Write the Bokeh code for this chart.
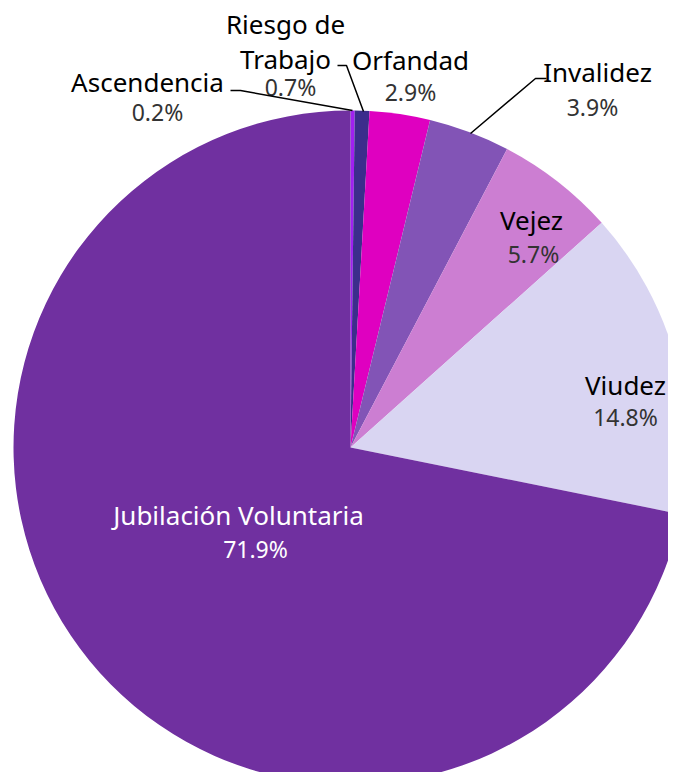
import numpy as np
from bokeh.plotting import figure
from bokeh.models import Range1d, ColumnDataSource
from bokeh.core.properties import value
from bokeh.embed import file_html
from bokeh.resources import INLINE

# ---- data ----
categories = ["Ascendencia", "Riesgo de Trabajo", "Orfandad", "Invalidez", "Vejez", "Viudez", "Jubilación Voluntaria"]
shares = [0.2, 0.7, 2.9, 3.9, 5.7, 14.8, 71.9]
pct_labels = ["0.2%", "0.7%", "2.9%", "3.9%", "5.7%", "14.8%", "71.9%"]
colors = ["#A020F0", "#3C2D8C", "#DF00C0", "#8254B6", "#CC7ED2", "#D9D5F2", "#7030A0"]

# ---- layout (picture pixel coordinates) ----
W, H = 668, 772
def px(x):
    return x
def py(y):
    return H - y

cx, cy, r = px(350), py(447), 337

vals = np.array(shares)
frac = vals / vals.sum()
cum = np.concatenate([[0], np.cumsum(frac)])
start = np.pi / 2 - cum[:-1] * 2 * np.pi
end = np.pi / 2 - cum[1:] * 2 * np.pi

p = figure(width=W, height=H, output_backend="svg", toolbar_location=None,
           x_range=Range1d(0, W), y_range=Range1d(0, H), min_border=0)
p.axis.visible = False
p.grid.visible = False
p.outline_line_color = None
p.background_fill_color = "white"

src = ColumnDataSource(dict(start=start, end=end, color=colors))
p.wedge(x=cx, y=cy, radius=r, start_angle="start", end_angle="end", direction="clock",
        fill_color="color", line_color=None, source=src)

# name label lines, percentage positions (picture coords)
name_lines = [["Ascendencia"], ["Riesgo de", "Trabajo"], ["Orfandad"], ["Invalidez"], ["Vejez"], ["Viudez"], ["Jubilación Voluntaria"]]
name_pos = [[(147, 81)], [(285, 23), (285, 58)], [(410, 59)], [(597, 71)], [(531, 219)], [(625, 384)], [(238, 514)]]
pct_pos = [(157, 111), (290, 86), (410, 91), (592, 106), (533, 253), (625, 416), (255, 548)]
name_col = ["black"] * 6 + ["white"]
pct_col = ["#333333"] * 6 + ["white"]

font = value("Noto Sans")
for i in range(len(categories)):
    for line, (x, y) in zip(name_lines[i], name_pos[i]):
        p.text(x=[px(x)], y=[py(y)], text=[line], text_font=font, text_font_size="26px",
               text_color=name_col[i], text_align="center", text_baseline="middle")
    x, y = pct_pos[i]
    p.text(x=[px(x)], y=[py(y)], text=[pct_labels[i]], text_font=font, text_font_size="23px",
           text_color=pct_col[i], text_align="center", text_baseline="middle")

leaders = [
    [(230, 90), (240, 90), (352, 110)],
    [(337, 65), (346, 65), (363, 111)],
    [(470, 133), (535, 78), (546, 78)],
]
for pts in leaders:
    p.line(x=[px(a) for a, b in pts], y=[py(b) for a, b in pts], line_color="black", line_width=1.5)

open("out.html", "w").write(file_html(p, INLINE))
